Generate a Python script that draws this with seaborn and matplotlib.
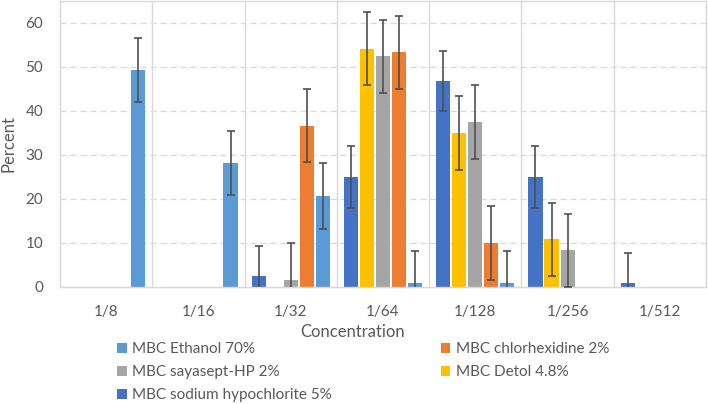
import numpy as np
import pandas as pd
import matplotlib
matplotlib.use("Agg")
import matplotlib.pyplot as plt
from matplotlib.patches import Patch
import seaborn as sns

# ---------------- data ----------------
concentrations = ["1/8", "1/16", "1/32", "1/64", "1/128", "1/256", "1/512"]

series_names = ["MBC sodium hypochlorite 5%", "MBC Detol 4.8%", "MBC sayasept-HP 2%",
                "MBC chlorhexidine 2%", "MBC Ethanol 70%"]

sodium = [0, 0, 2.4, 25.0, 46.9, 25.0, 0.8]
detol = [0, 0, 0, 54.2, 35.0, 10.8, 0]
sayasept = [0, 0, 1.6, 52.4, 37.5, 8.3, 0]
chlorhex = [0, 0, 36.7, 53.4, 10.0, 0, 0]
ethanol = [49.3, 28.2, 20.7, 0.8, 0.8, 0, 0]

sodium_err = [0, 0, 7.0, 7.0, 6.8, 7.0, 7.0]
detol_err = [0, 0, 0, 8.3, 8.4, 8.3, 0]
sayasept_err = [0, 0, 8.3, 8.3, 8.3, 8.2, 0]
chlorhex_err = [0, 0, 8.3, 8.3, 8.3, 0, 0]
ethanol_err = [7.3, 7.3, 7.5, 7.3, 7.3, 0, 0]

colors = ["#4472C4", "#FFC000", "#A5A5A5", "#ED7D31", "#5B9BD5"]

values = [sodium, detol, sayasept, chlorhex, ethanol]
errors = [sodium_err, detol_err, sayasept_err, chlorhex_err, ethanol_err]

rows = []
for name, vals, errs in zip(series_names, values, errors):
    for c, v, e in zip(concentrations, vals, errs):
        rows.append({"Concentration": c, "Percent": v, "err": e, "series": name})
df = pd.DataFrame(rows)

# ---------------- plot ----------------
sns.set_style("white")
plt.rcParams["font.family"] = ["Lato", "DejaVu Sans"]
text_col = "#595959"
grid_col = "#d9d9d9"

fig = plt.figure(figsize=(7.08, 4.04), dpi=100)
ax = fig.add_axes([60 / 708, 1 - 287 / 404, 646 / 708, 286 / 404])

sns.barplot(data=df, x="Concentration", y="Percent", hue="series",
            hue_order=series_names, order=concentrations, palette=colors,
            saturation=1, errorbar=None, width=0.87, gap=0.12, linewidth=0,
            legend=False, ax=ax)

# error bars from the table, placed at each bar's centre
for container, name in zip(ax.containers, series_names):
    sub = df[df["series"] == name].set_index("Concentration").loc[concentrations]
    for bar, v, e in zip(container, sub["Percent"], sub["err"]):
        if v <= 0:
            continue
        ax.errorbar(bar.get_x() + bar.get_width() / 2, v, yerr=e,
                    fmt="none", ecolor="#505050", elinewidth=1.2,
                    capsize=3, capthick=1.2, zorder=4)

ax.set_ylim(0, 65)
ax.set_xlim(-0.5, len(concentrations) - 0.5)
ax.set_yticks(np.arange(0, 61, 10))
ax.set_xticks(np.arange(-0.5, len(concentrations)), minor=True)

ax.grid(axis="y", which="major", color=grid_col, linestyle=(0, (5, 3)), linewidth=0.9)
ax.grid(axis="x", which="minor", color=grid_col, linestyle="-", linewidth=1.0)
ax.grid(axis="x", which="major", visible=False)
ax.set_axisbelow(True)

for s in ax.spines.values():
    s.set_color(grid_col)
    s.set_linewidth(1.0)

ax.tick_params(axis="both", which="both", length=0, colors=text_col, labelsize=11)
ax.tick_params(axis="x", pad=13)
ax.tick_params(axis="y", pad=12)

ax.set_ylabel("Percent", color=text_col, fontsize=12)
ax.yaxis.set_label_coords(-0.068, 0.5)
ax.set_xlabel("Concentration", color=text_col, fontsize=12)
ax.xaxis.set_label_coords((353 - 60) / 646, -0.13)

# legend: Ethanol | chlorhexidine / sayasept | Detol / sodium
leg_order = [4, 2, 0, 3, 1]
handles = [Patch(facecolor=colors[i], edgecolor="none") for i in leg_order]
labels = [series_names[i] for i in leg_order]
fig.legend(handles, labels, ncol=2, loc="upper left",
           bbox_to_anchor=(117 / 708, 1 - 342 / 404), frameon=False,
           fontsize=11, labelcolor=text_col, handlelength=0.65, handleheight=0.65,
           handletextpad=0.35, columnspacing=7.1, labelspacing=0.6,
           borderaxespad=0, borderpad=0)

fig.savefig("out.png", dpi=100)
